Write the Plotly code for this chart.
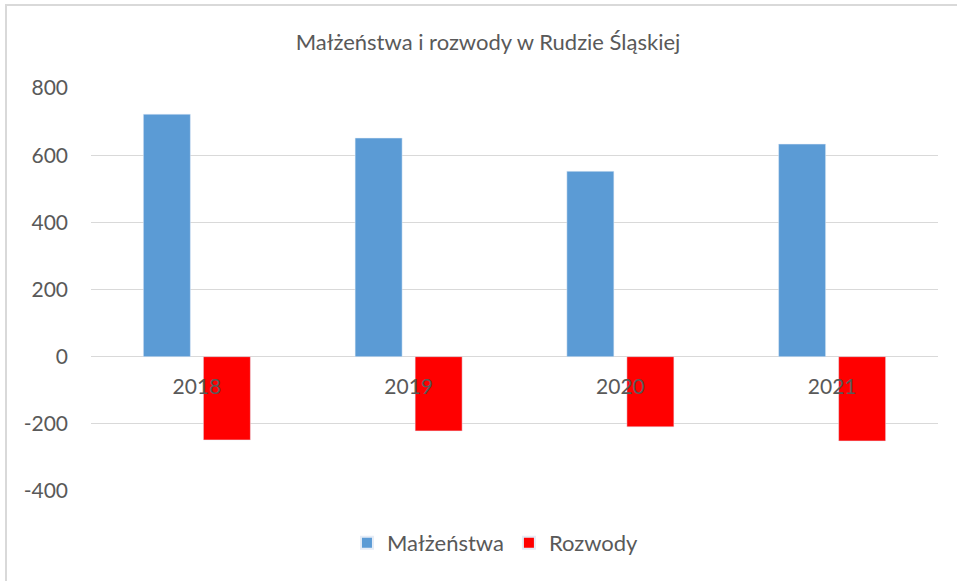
import plotly.graph_objects as go

years = ["2018", "2019", "2020", "2021"]
malzenstwa = [722, 651, 552, 633]
rozwody = [-248, -221, -209, -251]
y_ticks = [-400, -200, 0, 200, 400, 600, 800]
y_tick_labels = ["-400", "-200", "0", "200", "400", "600", "800"]

W, H = 957, 581
ml, mr, mt, mb = 91, 19, 88, 90

fig = go.Figure()
fig.add_trace(go.Bar(x=years, y=malzenstwa, name="Małżeństwa", marker_color="#5b9bd5"))
fig.add_trace(go.Bar(x=years, y=rozwody, name="Rozwody", marker_color="#ff0000"))

font = "Lato, 'Open Sans', sans-serif"
fig.update_layout(
    width=W, height=H,
    margin=dict(l=ml, r=mr, t=mt, b=mb, autoexpand=False),
    paper_bgcolor="white", plot_bgcolor="white",
    barmode="group", bargap=0.433, bargroupgap=0.217,
    font=dict(family=font, color="#595959", size=21),
    title=dict(text="Małżeństwa i rozwody w Rudzie Śląskiej", x=488 / W, xref="container",
               xanchor="center", y=1 - 42 / H, yref="container", yanchor="middle",
               font=dict(size=22, color="#595959", family=font)),
    legend=dict(orientation="h", x=457 / W, xanchor="center", y=-(543 - 491) / (H - mt - mb),
                yanchor="middle", font=dict(size=22, color="#595959"), itemsizing="constant"),
    showlegend=True,
)
fig.update_yaxes(range=[-400, 800], tickvals=y_ticks, ticktext=y_tick_labels, showgrid=True,
                 gridcolor="#d9d9d9", gridwidth=1.3,
                 zeroline=True, zerolinecolor="#d9d9d9", zerolinewidth=1.3, showline=False,
                 ticks="", ticklabelstandoff=22, tickfont=dict(size=21, color="#595959"))
fig.update_xaxes(anchor="free", position=1 / 3, showline=False, ticks="", showgrid=False,
                 tickfont=dict(size=21, color="#595959"), ticklabelstandoff=15)

# chart area border
fig.add_shape(type="rect", xref="paper", yref="paper",
              x0=-(ml - 6) / (W - ml - mr), x1=(W - ml + 20) / (W - ml - mr),
              y0=-(mb + 20) / (H - mt - mb), y1=1 + (mt - 5) / (H - mt - mb),
              line=dict(color="#d9d9d9", width=2), fillcolor="rgba(0,0,0,0)", layer="below")

fig.write_html("out.html", config={"displayModeBar": False},
               post_script="document.body.style.margin='0';document.body.style.overflow='hidden';")
